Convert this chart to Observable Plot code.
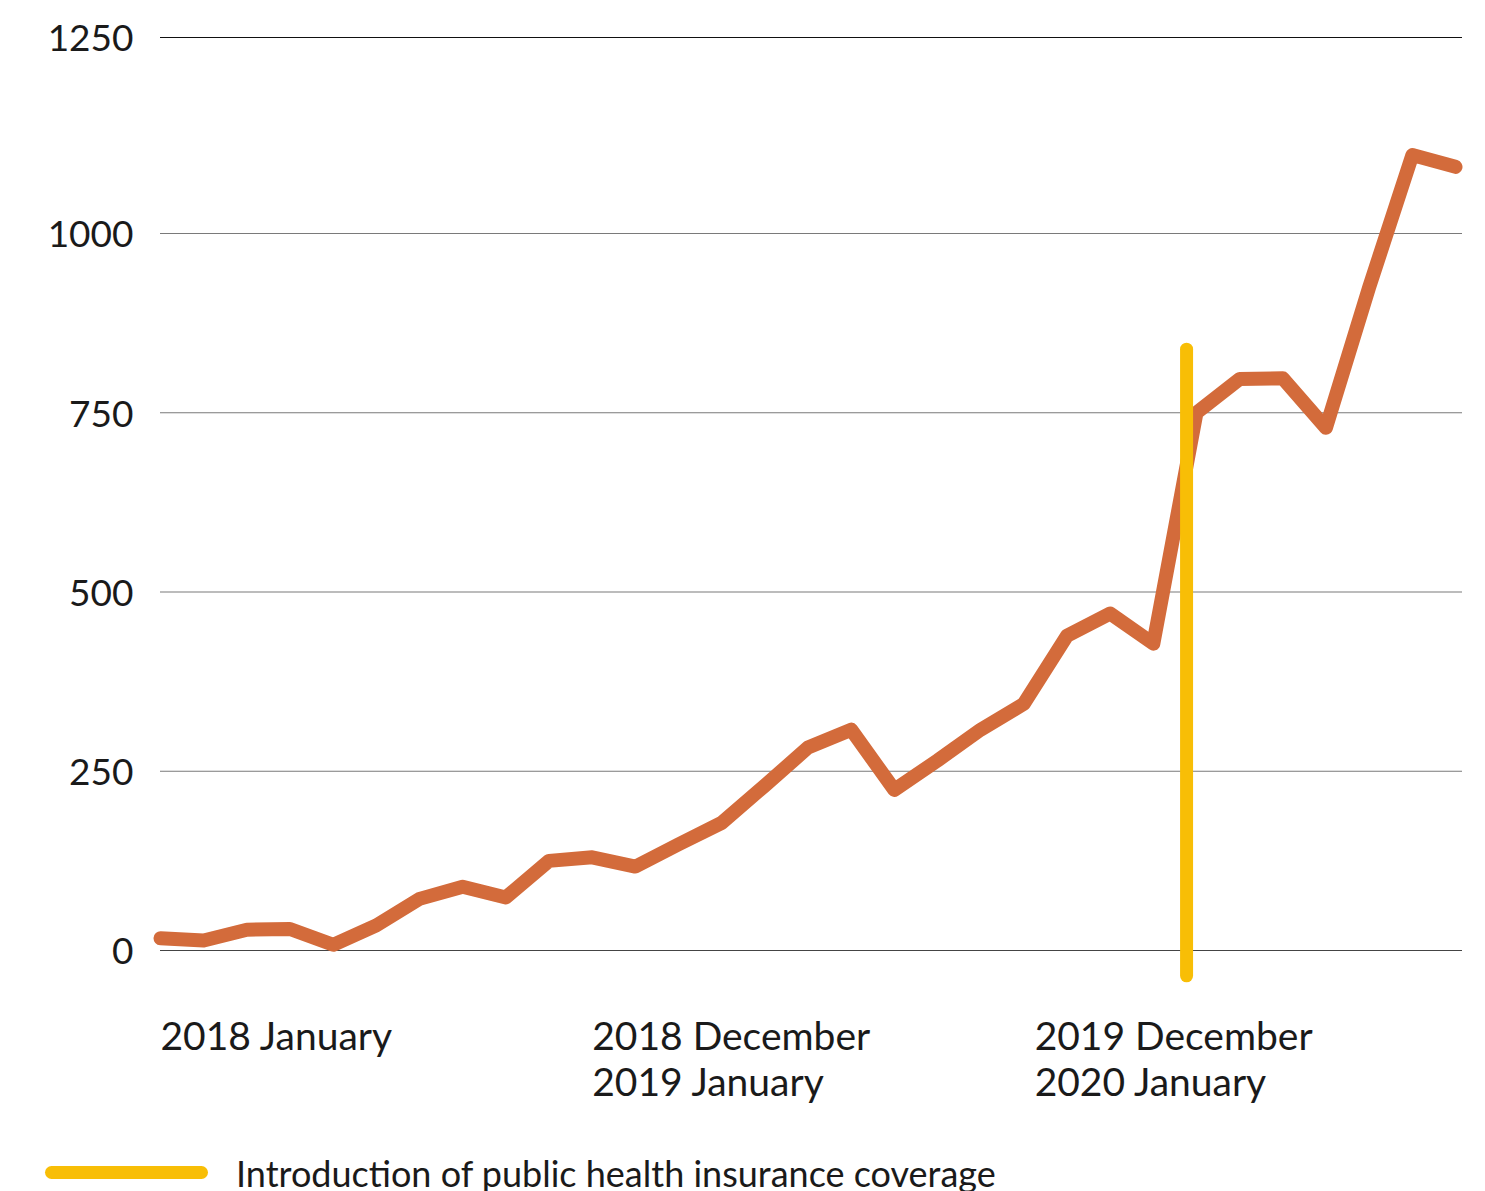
<!DOCTYPE html>
<html><head><meta charset="utf-8">
<script src="https://cdn.jsdelivr.net/npm/d3@7"></script>
<script src="https://cdn.jsdelivr.net/npm/@observablehq/plot@0.6"></script>
<style>
html,body{margin:0;padding:0;background:#fff;overflow:hidden;}
body{font-family:Lato,"Open Sans",sans-serif;color:#1a1a1a;width:1485px;height:1191px;position:relative;}
#chart{position:absolute;left:0;top:0;}
#swatch{position:absolute;left:45px;top:1166px;width:163px;height:13px;border-radius:7px;background:#f8be06;}
#legtext{position:absolute;left:236px;top:1153px;font-size:36px;line-height:40px;white-space:nowrap;}
</style></head><body>
<div id="chart"></div>
<div id="swatch"></div>
<div id="legtext">Introduction of public health insurance coverage</div>
<script>
// Monthly counts, index 0 = 2018 January
const values = [17,14,29,30,8,35,72,89,74,125,130,117,148,178,230,283,308,224,265,308,344,439,470,428,750,797,798,729,925,1100,1085];
const xTickPositions = [0,10,20.25];
const xTickLabels = ["2018 January","2018 December\n2019 January","2019 December\n2020 January"];
const yTicks = [0,250,500,750,1000,1250];
const coverageX = [23.77];
const coverageY1 = [-36];
const coverageY2 = [838];

const series = values.map((v,i)=>({i, v}));
const coverage = coverageX.map((x,k)=>({x, y1: coverageY1[k], y2: coverageY2[k]}));

const chart = Plot.plot({
  width: 1485,
  height: 1130,
  marginLeft: 160,
  marginRight: 23,
  marginTop: 20,
  marginBottom: 140,
  style: {fontFamily: "Lato, 'Open Sans', sans-serif", fontSize: "36px", color: "#1a1a1a", background: "#fff"},
  x: {type: "linear", domain: [0,30], range: [160,1455]},
  y: {type: "linear", domain: [0,1000,1250], range: [950,233,37]},
  marks: [
    Plot.ruleY(yTicks, {stroke: d => d === 1250 ? "#111" : d === 0 ? "#444" : "#7a7a7a", strokeWidth: 1.2}),
    Plot.axisY(yTicks, {tickSize: 0, tickPadding: 27, fontSize: 37, dy: 2, fill: "#1a1a1a", label: null, tickFormat: d => String(d)}),
    Plot.axisX(xTickPositions, {tickSize: 0, tickPadding: 27, fontSize: 39, textAnchor: "start", lineAnchor: "top", lineHeight: 1.18, fill: "#1a1a1a", label: null,
      tickFormat: d => xTickLabels[xTickPositions.indexOf(d)]}),
    Plot.line(series, {x: "i", y: "v", stroke: "#d36b3b", strokeWidth: 14, strokeLinecap: "round", strokeLinejoin: "round"}),
    Plot.ruleX(coverage, {x: "x", y1: "y1", y2: "y2", stroke: "#f8be06", strokeWidth: 13, strokeLinecap: "round"})
  ]
});
document.getElementById("chart").appendChild(chart);
</script>
</body></html>
